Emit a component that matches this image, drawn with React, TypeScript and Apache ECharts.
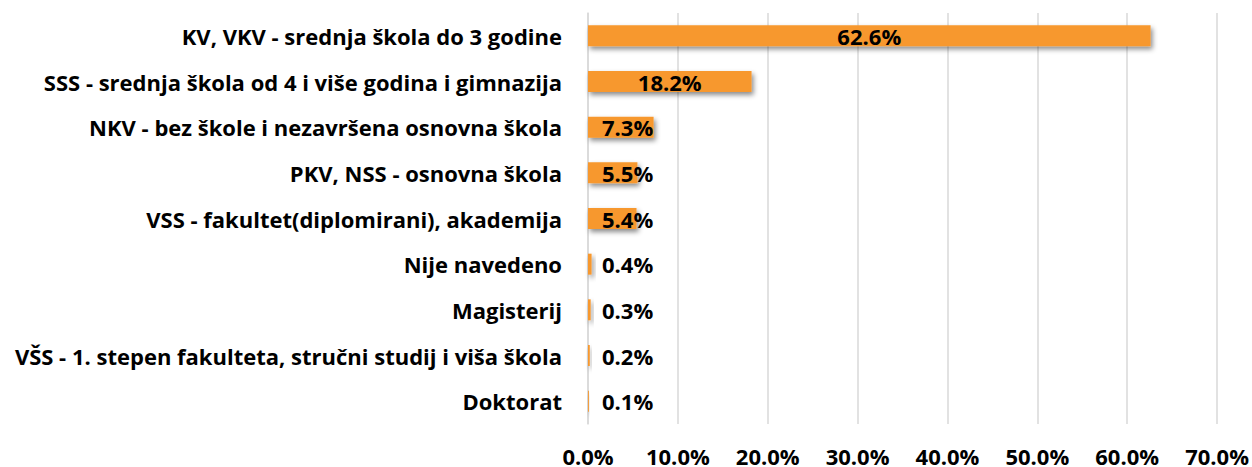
import React, { useEffect, useRef } from "react";
import * as echarts from "echarts";

const categories = [
  "KV, VKV - srednja škola do 3 godine",
  "SSS - srednja škola od 4 i više godina i gimnazija",
  "NKV - bez škole i nezavršena osnovna škola",
  "PKV, NSS - osnovna škola",
  "VSS - fakultet(diplomirani), akademija",
  "Nije navedeno",
  "Magisterij",
  "VŠS - 1. stepen fakulteta, stručni studij i viša škola",
  "Doktorat",
];
const values = [62.6, 18.2, 7.3, 5.5, 5.4, 0.4, 0.3, 0.2, 0.1];
const xTicks = { min: 0, max: 70, interval: 10 };

const FONT = "'Open Sans'";

export default function App() {
  const ref = useRef<HTMLDivElement>(null);
  useEffect(() => {
    if (!ref.current) return;
    const chart = echarts.init(ref.current, undefined, { renderer: "svg" });
    const data = values.map((v) => ({
      value: v,
      label:
        v < 10
          ? { position: "insideLeft", distance: 14 }
          : { position: "inside" },
    }));
    chart.setOption({
      animation: false,
      backgroundColor: "#ffffff",
      grid: { left: 588, right: 34, top: 13, bottom: 42, containLabel: false },
      xAxis: {
        type: "value",
        min: xTicks.min,
        max: xTicks.max,
        interval: xTicks.interval,
        axisLine: { show: false },
        axisTick: { show: false },
        splitLine: { show: true, lineStyle: { color: "#d9d9d9", width: 1.5 } },
        axisLabel: {
          margin: 21,
          color: "#000",
          fontFamily: FONT,
          fontWeight: "bold",
          fontSize: 22,
          formatter: (v: number) => v.toFixed(1) + "%",
        },
      },
      yAxis: {
        type: "category",
        data: categories,
        inverse: true,
        axisLine: { show: true, lineStyle: { color: "#d9d9d9", width: 1.5 } },
        axisTick: { show: false },
        axisLabel: {
          margin: 26,
          color: "#000",
          fontFamily: FONT,
          fontWeight: "bold",
          fontSize: 22,
        },
      },
      series: [
        {
          type: "bar",
          data,
          barWidth: 21,
          itemStyle: {
            color: "#F7982F",
            shadowBlur: 5,
            shadowColor: "rgba(0,0,0,0.45)",
            shadowOffsetX: 2,
            shadowOffsetY: 3,
          },
          label: {
            show: true,
            color: "#000",
            fontFamily: FONT,
            fontWeight: "bold",
            fontSize: 22,
            formatter: (p: any) => p.value.toFixed(1) + "%",
          },
        },
      ],
    });
    return () => chart.dispose();
  }, []);
  return (
    <div
      ref={ref}
      style={{ position: "fixed", left: 0, top: 0, width: 1252, height: 467 }}
    />
  );
}
